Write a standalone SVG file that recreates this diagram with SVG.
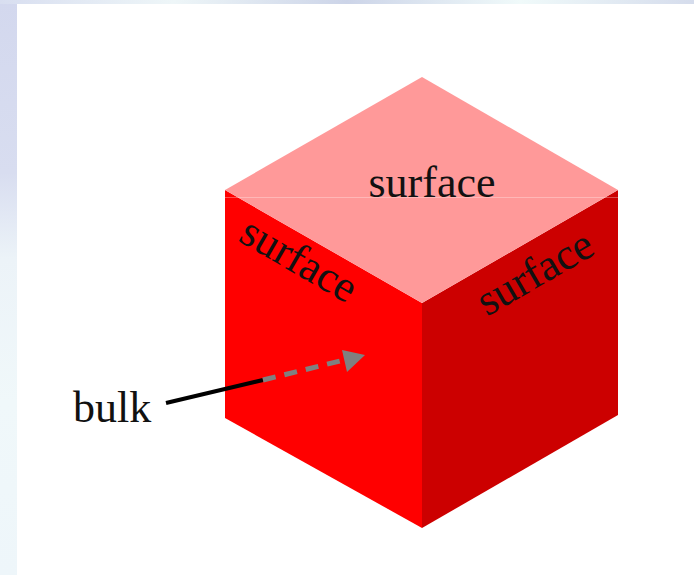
<svg xmlns="http://www.w3.org/2000/svg" width="694" height="575" viewBox="0 0 694 575">
  <defs>
    <linearGradient id="bgLeft" x1="0" y1="0" x2="0" y2="1">
      <stop offset="0" stop-color="#D3D8EE"/>
      <stop offset="0.3" stop-color="#D8DDF0"/>
      <stop offset="0.45" stop-color="#ECF3F8"/>
      <stop offset="0.7" stop-color="#F0F8FA"/>
      <stop offset="1" stop-color="#EEF6FA"/>
    </linearGradient>
    <linearGradient id="bgTop" x1="0" y1="0" x2="1" y2="0">
      <stop offset="0" stop-color="#D8DEF0"/>
      <stop offset="0.25" stop-color="#EEF6F8"/>
      <stop offset="0.5" stop-color="#CCD4E8"/>
      <stop offset="0.75" stop-color="#F0FAFA"/>
      <stop offset="1" stop-color="#D5DCEC"/>
    </linearGradient>
    <marker id="arrowGray" markerWidth="6" markerHeight="6" refX="5" refY="3" orient="auto" markerUnits="strokeWidth">
      <path d="M0,0 L6,3 L0,6 Z" fill="#808080"/>
    </marker>
  </defs>
  <style>
    .lbl { font-family: "Liberation Serif", "Times New Roman", serif; font-size: 44px; fill: #111111; }
  </style>
  <rect x="0" y="0" width="694" height="575" fill="#FFFFFF"/>
  <rect x="0" y="0" width="17" height="575" fill="url(#bgLeft)"/>
  <rect x="0" y="0" width="694" height="4" fill="url(#bgTop)"/>

  <g id="cube">
    <polygon id="left-face" points="225,190 422,303 422,528 225,418" fill="#FF0000"/>
    <polygon id="right-face" points="422,303 618,190 618,415 422,528" fill="#CC0000"/>
    <polygon id="top-face" points="422,77 618,190 422,303 225,190" fill="#FF9999"/>
    <line x1="225" y1="197.5" x2="618" y2="197.5" stroke="#FFFFFF" stroke-opacity="0.3" stroke-width="1"/>
  </g>

  <g id="label-top">
    <text class="lbl" x="432" y="197" text-anchor="middle">surface</text>
  </g>
  <g id="label-left">
    <text class="lbl" x="292" y="272" text-anchor="middle" transform="rotate(30 292 272)">surface</text>
  </g>
  <g id="label-right">
    <text class="lbl" x="542" y="285" text-anchor="middle" transform="rotate(-30 542 285)">surface</text>
  </g>
  <g id="label-bulk">
    <text class="lbl" x="73" y="422">bulk</text>
  </g>

  <g id="connectors">
    <line x1="166" y1="403" x2="263" y2="380" stroke="#000000" stroke-width="4"/>
    <line x1="263" y1="380" x2="344" y2="360" stroke="#808080" stroke-width="5" stroke-dasharray="13 9"/>
    <polygon points="365,355 342,350 347,372" fill="#808080"/>
  </g>
</svg>
